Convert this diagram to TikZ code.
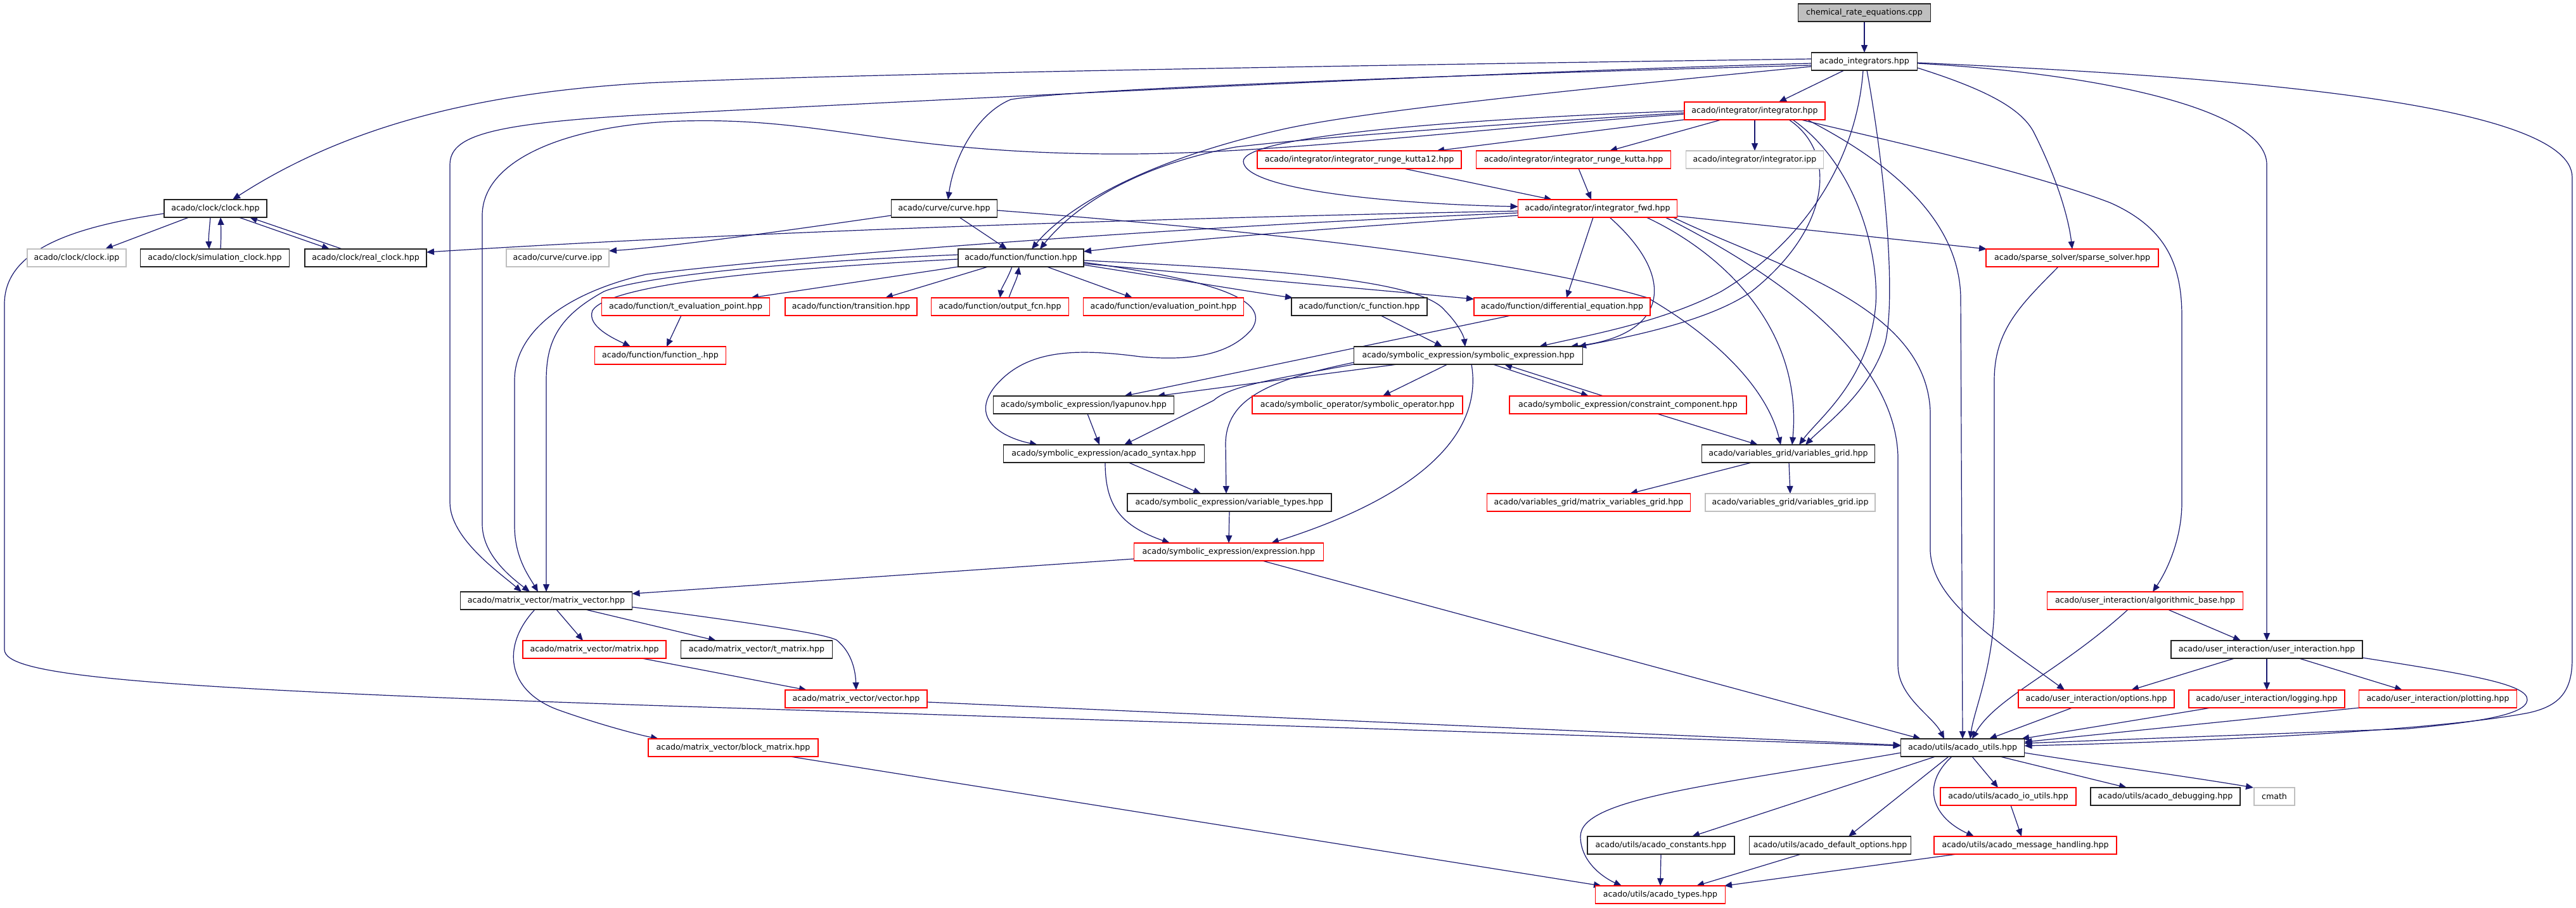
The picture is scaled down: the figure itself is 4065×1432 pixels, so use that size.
\documentclass[tikz,border=0pt]{standalone}
\usepackage{fontspec}
\usetikzlibrary{arrows.meta}
\newfontfamily\dxfont{DejaVu Sans}
\definecolor{edgeblue}{HTML}{191970}
\definecolor{grayb}{HTML}{BFBFBF}
\definecolor{boxblack}{HTML}{202020}
\pgfdeclarelayer{bg}
\pgfsetlayers{bg,main}
\tikzset{
  nb/.style={draw=boxblack, fill=white, line width=1.4pt, minimum height=28pt, inner sep=0pt, outer sep=0pt, font=\dxfont\fontsize{12.6}{15}\selectfont, text=black},
  nr/.style={nb, draw=red},
  ng/.style={nb, draw=grayb},
  e/.style={draw=edgeblue, line width=1.2pt, -{Triangle[length=12pt,width=10pt]}},
}
\begin{document}
\begin{tikzpicture}[x=1pt,y=-1pt]
\useasboundingbox (0,0) rectangle (4065,1432);
% nodes
\node[nb, fill=grayb, minimum width=209pt] (root) at (2942,20) {chemical\_rate\_equations.cpp};
\node[nb, minimum width=167pt] (ai) at (2942,97) {acado\_integrators.hpp};
\node[nr, minimum width=222pt] (integ) at (2769,175) {acado/integrator/integrator.hpp};
\node[nr, minimum width=322pt] (rk12) at (2145,252) {acado/integrator/integrator\_runge\_kutta12.hpp};
\node[nr, minimum width=307pt] (rk) at (2483,252) {acado/integrator/integrator\_runge\_kutta.hpp};
\node[ng, minimum width=217pt] (iipp) at (2769,252) {acado/integrator/integrator.ipp};
\node[nr, minimum width=251pt] (ifwd) at (2521,329) {acado/integrator/integrator\_fwd.hpp};
\node[nb, minimum width=162pt] (clock) at (340,329) {acado/clock/clock.hpp};
\node[nb, minimum width=167pt] (curve) at (1490,329) {acado/curve/curve.hpp};
\node[nr, minimum width=272pt] (sparse) at (3270,407) {acado/sparse\_solver/sparse\_solver.hpp};
\node[ng, minimum width=156pt] (cipp) at (121,407) {acado/clock/clock.ipp};
\node[nb, minimum width=235pt] (simclock) at (339,407) {acado/clock/simulation\_clock.hpp};
\node[nb, minimum width=192pt] (realclock) at (577,407) {acado/clock/real\_clock.hpp};
\node[ng, minimum width=162pt] (curveipp) at (880,407) {acado/curve/curve.ipp};
\node[nb, minimum width=198pt] (function) at (1611,407) {acado/function/function.hpp};
\node[nr, minimum width=265pt] (teval) at (1082,484) {acado/function/t\_evaluation\_point.hpp};
\node[nr, minimum width=208pt] (trans) at (1343,484) {acado/function/transition.hpp};
\node[nr, minimum width=217pt] (outfcn) at (1578,484) {acado/function/output\_fcn.hpp};
\node[nr, minimum width=253pt] (evalpt) at (1836,484) {acado/function/evaluation\_point.hpp};
\node[nb, minimum width=214pt] (cfunc) at (2145,484) {acado/function/c\_function.hpp};
\node[nr, minimum width=278pt] (diffeq) at (2465,484) {acado/function/differential\_equation.hpp};
\node[nr, minimum width=207pt] (fnu) at (1042,561) {acado/function/function\_.hpp};
\node[nb, minimum width=361pt] (symexpr) at (2317,561) {acado/symbolic\_expression/symbolic\_expression.hpp};
\node[nb, minimum width=285pt] (lyap) at (1710,639) {acado/symbolic\_expression/lyapunov.hpp};
\node[nr, minimum width=332pt] (symop) at (2142,639) {acado/symbolic\_operator/symbolic\_operator.hpp};
\node[nr, minimum width=374pt] (constr) at (2569,639) {acado/symbolic\_expression/constraint\_component.hpp};
\node[nb, minimum width=317pt] (syntax) at (1742,716) {acado/symbolic\_expression/acado\_syntax.hpp};
\node[nb, minimum width=273pt] (vgrid) at (2822,716) {acado/variables\_grid/variables\_grid.hpp};
\node[nb, minimum width=322pt] (vtypes) at (1940,793) {acado/symbolic\_expression/variable\_types.hpp};
\node[nr, minimum width=321pt] (mvgrid) at (2507,793) {acado/variables\_grid/matrix\_variables\_grid.hpp};
\node[ng, minimum width=268pt] (vgipp) at (2825,793) {acado/variables\_grid/variables\_grid.ipp};
\node[nr, minimum width=299pt] (expr) at (1939,871) {acado/symbolic\_expression/expression.hpp};
\node[nb, minimum width=271pt] (mv) at (862,948) {acado/matrix\_vector/matrix\_vector.hpp};
\node[nr, minimum width=309pt] (algo) at (3385,948) {acado/user\_interaction/algorithmic\_base.hpp};
\node[nb, minimum width=302pt] (ui) at (3577,1025) {acado/user\_interaction/user\_interaction.hpp};
\node[nb, minimum width=239pt] (tmatrix) at (1194,1025) {acado/matrix\_vector/t\_matrix.hpp};
\node[nr, minimum width=226pt] (matrix) at (938,1025) {acado/matrix\_vector/matrix.hpp};
\node[nr, minimum width=224pt] (vector) at (1351,1103) {acado/matrix\_vector/vector.hpp};
\node[nr, minimum width=246pt] (options) at (3308,1103) {acado/user\_interaction/options.hpp};
\node[nr, minimum width=246pt] (logging) at (3577,1103) {acado/user\_interaction/logging.hpp};
\node[nr, minimum width=249pt] (plotting) at (3847,1103) {acado/user\_interaction/plotting.hpp};
\node[nr, minimum width=268pt] (block) at (1157,1180) {acado/matrix\_vector/block\_matrix.hpp};
\node[nb, minimum width=195pt] (utils) at (3097,1180) {acado/utils/acado\_utils.hpp};
\node[nr, minimum width=214pt] (ioutils) at (3169,1257) {acado/utils/acado\_io\_utils.hpp};
\node[nb, minimum width=236pt] (debug) at (3417,1257) {acado/utils/acado\_debugging.hpp};
\node[ng, minimum width=64pt] (cmath) at (3589,1257) {cmath};
\node[nb, minimum width=232pt] (const) at (2621,1334) {acado/utils/acado\_constants.hpp};
\node[nb, minimum width=255pt] (defopt) at (2888,1334) {acado/utils/acado\_default\_options.hpp};
\node[nr, minimum width=288pt] (msg) at (3196,1334) {acado/utils/acado\_message\_handling.hpp};
\node[nr, minimum width=205pt] (types) at (2620,1412) {acado/utils/acado\_types.hpp};
% edges
\begin{pgfonlayer}{bg}
\fill[white] (0,0) rectangle (4065,1432);
\draw[e] (root.south) -- (ai.north);
\draw[e] ([xshift=-32pt]ai.south) -- ([xshift=38pt]integ.north);
\draw[e] ([yshift=4pt]ai.west) .. controls (2000,105) and (1300,118) .. (1020,131) .. controls (780,145) and (560,190) .. ([xshift=27pt]clock.north);
\draw[e] ([yshift=-3pt]ai.west) .. controls (2300,115) and (1400,162) .. (1020,181) .. controls (770,195) and (710,215) .. (710,260) -- (710,793) .. controls (710,850) and (790,905) .. ([xshift=-39pt]mv.north);
\draw[e] ([yshift=-6pt]ai.west) .. controls (2300,118) and (1700,140) .. (1595,157) .. controls (1540,180) and (1505,250) .. ([xshift=6pt]curve.north);
\draw[e] ([yshift=-8pt]ai.west) .. controls (2500,140) and (2150,175) .. (2020,205) .. controls (1800,255) and (1680,330) .. ([xshift=17pt]function.north);
\draw[e] ([yshift=-3pt]integ.west) .. controls (2300,200) and (2050,220) .. (1950,232) .. controls (1800,260) and (1700,320) .. ([xshift=30pt]function.north);
\draw[e] ([yshift=-5pt]integ.west) .. controls (2300,205) and (2000,245) .. (1748,243) .. controls (1400,240) and (1300,185) .. (1078,191) .. controls (900,196) and (761,250) .. (761,340) -- (761,827) .. controls (761,875) and (805,910) .. ([xshift=-26pt]mv.north);
\draw[e] (integ.west) .. controls (2300,188) and (1960,215) .. (1962,255) .. controls (1965,300) and (2200,322) .. ([yshift=3pt]ifwd.west);
\draw[e] ([xshift=-112pt]integ.south) -- ([xshift=122pt]rk12.north);
\draw[e] ([xshift=-53pt]integ.south) -- ([xshift=57pt]rk.north);
\draw[e] (integ.south) -- (iipp.north);
\draw[e] ([xshift=70pt]rk12.south) -- ([xshift=-72pt]ifwd.north);
\draw[e] ([xshift=8pt]rk.south) -- ([xshift=-10pt]ifwd.north);
\draw[e] ([xshift=73pt]integ.south) .. controls (2950,215) and (3200,270) .. (3330,320) .. controls (3420,360) and (3443,420) .. (3443,500) -- (3443,793) .. controls (3443,850) and (3420,900) .. ([xshift=12pt]algo.north);
\draw[e] ([xshift=83pt]integ.south) .. controls (2950,240) and (3092,330) .. (3094,470) -- (utils.north);
\draw[e] ([xshift=-2pt]ai.south) .. controls (2930,250) and (2850,380) .. (2716,460) .. controls (2620,510) and (2500,530) .. ([xshift=112pt]symexpr.north);
\draw[e] ([xshift=54pt]integ.south) .. controls (2900,240) and (2890,360) .. (2764,460) .. controls (2700,505) and (2580,530) .. ([xshift=174pt]symexpr.north);
\draw[e] ([xshift=19pt]ifwd.south) .. controls (2650,440) and (2630,530) .. ([xshift=161pt]symexpr.north);
\draw[e] ([xshift=4pt]ai.south) .. controls (2980,300) and (2990,480) .. (2975,540) .. controls (2950,620) and (2880,670) .. ([xshift=27pt]vgrid.north);
\draw[e] ([xshift=60pt]integ.south) .. controls (2930,260) and (2965,400) .. (2960,480) .. controls (2950,600) and (2870,660) .. ([xshift=17pt]vgrid.north);
\draw[e] ([xshift=77pt]ifwd.south) .. controls (2720,400) and (2845,520) .. ([xshift=6pt]vgrid.north);
\draw[e] ([yshift=-3pt]curve.east) .. controls (2000,365) and (2400,410) .. (2600,470) .. controls (2720,540) and (2790,620) .. ([xshift=-12pt]vgrid.north);
\draw[e] ([xshift=46pt]constr.south) -- ([xshift=-48pt]vgrid.north);
\draw[e] ([xshift=-58pt]vgrid.south) -- ([xshift=65pt]mvgrid.north);
\draw[e] ([xshift=1pt]vgrid.south) -- (vgipp.north);
\draw[e] ([xshift=-42pt]clock.south) -- ([xshift=45pt]cipp.north);
\draw[e] ([xshift=-8pt]clock.south) .. controls (330,365) and (329,375) .. ([xshift=-9pt]simclock.north);
\draw[e] ([xshift=9pt]simclock.north) .. controls (349,375) and (349,365) .. ([xshift=8pt]clock.south);
\draw[e] ([xshift=37pt]clock.south) -- ([xshift=-57pt]realclock.north);
\draw[e] ([xshift=-37pt]realclock.north) -- ([xshift=54pt]clock.south);
\draw[e] ([yshift=-8pt]clock.west) .. controls (100,360) and (7,400) .. (7,480) -- (7,1025) .. controls (7,1065) and (200,1085) .. (1020,1113) -- ([yshift=3pt]utils.west);
\draw[e] ([yshift=-11pt]curve.west) .. controls (1200,370) and (1050,390) .. ([yshift=11pt]curveipp.east);
\draw[e] ([xshift=24pt]curve.south) -- ([xshift=-22pt]function.north);
\draw[e] ([yshift=-4pt]ifwd.west) .. controls (1800,345) and (1200,365) .. ([yshift=9pt]realclock.east);
\draw[e] ([yshift=-11pt]ifwd.west) .. controls (2100,360) and (1850,380) .. ([yshift=10pt]function.east);
\draw[e] ([yshift=-7pt]ifwd.west) .. controls (1800,360) and (1200,410) .. (1020,433) .. controls (900,460) and (812,520) .. (812,600) -- (812,830) .. controls (812,880) and (835,910) .. ([xshift=-13pt]mv.north);
\draw[e] ([yshift=5pt]function.west) .. controls (1200,415) and (1000,440) .. (953,460) .. controls (880,500) and (862,540) .. (862,600) -- (mv.north);
\draw[e] ([yshift=-2pt]function.west) .. controls (1200,425) and (960,450) .. (935,490) .. controls (925,515) and (970,535) .. ([xshift=-47pt]fnu.north);
\draw[e] ([xshift=-99pt]function.south) -- ([xshift=103pt]teval.north);
\draw[e] ([xshift=-52pt]function.south) -- ([xshift=54pt]trans.north);
\draw[e] ([xshift=-14pt]function.south) .. controls (1590,440) and (1580,455) .. (outfcn.north);
\draw[e] ([xshift=14pt]outfcn.north) .. controls (1597,455) and (1605,440) .. ([xshift=-3pt]function.south);
\draw[e] ([xshift=41pt]function.south) -- ([xshift=-49pt]evalpt.north);
\draw[e] ([yshift=-11pt]function.east) .. controls (1850,440) and (1970,460) .. ([xshift=-105pt]cfunc.north);
\draw[e] ([yshift=-9pt]function.east) .. controls (1950,438) and (2200,460) .. ([yshift=12pt]diffeq.west);
\draw[e] ([yshift=-4pt]function.east) .. controls (2000,425) and (2240,440) .. (2280,490) .. controls (2300,510) and (2310,530) .. ([xshift=-5pt]symexpr.north);
\draw[e] ([yshift=-7pt]function.east) .. controls (1900,440) and (2010,470) .. (1975,520) .. controls (1940,560) and (1880,570) .. (1800,563) .. controls (1700,550) and (1620,550) .. (1570,610) .. controls (1530,660) and (1580,690) .. ([xshift=-105pt]syntax.north);
\draw[e] ([xshift=-7pt]teval.south) -- ([xshift=10pt]fnu.north);
\draw[e] ([xshift=-81pt]diffeq.south) -- ([xshift=64pt]lyap.north);
\draw[e] ([xshift=34pt]cfunc.south) -- ([xshift=-41pt]symexpr.north);
\draw[e] ([xshift=-112pt]symexpr.south) -- ([xshift=116pt]lyap.north);
\draw[e] (symexpr.south west) .. controls (2000,600) and (1940,610) .. (1915,632) -- ([xshift=32pt]syntax.north);
\draw[e] ([yshift=-11pt]symexpr.west) .. controls (2000,600) and (1935,630) .. (1934,700) -- ([xshift=-5pt]vtypes.north);
\draw[e] ([xshift=-33pt]symexpr.south) -- ([xshift=40pt]symop.north);
\draw[e] ([xshift=39pt]symexpr.south) -- ([xshift=-62pt]constr.north);
\draw[e] ([xshift=-39pt]constr.north) -- ([xshift=57pt]symexpr.south);
\draw[e] ([xshift=5pt]symexpr.south) .. controls (2340,680) and (2250,780) .. ([xshift=67pt]expr.north);
\draw[e] ([xshift=6pt]lyap.south) -- ([xshift=-7pt]syntax.north);
\draw[e] ([xshift=39pt]syntax.south) -- ([xshift=-45pt]vtypes.north);
\draw[e] ([xshift=2pt]syntax.south) .. controls (1744,800) and (1770,830) .. ([xshift=-93pt]expr.north);
\draw[e] (vtypes.south) -- (expr.north);
\draw[e] ([yshift=-11pt]expr.west) -- ([yshift=11pt]mv.east);
\draw[e] ([xshift=53pt]expr.south) -- ([xshift=-66pt]utils.north);
\draw[e] ([xshift=-7pt]ifwd.south) -- ([xshift=7pt]diffeq.north);
\draw[e] ([xshift=107pt]ifwd.south) .. controls (2800,430) and (2990,560) .. (2995,720) -- (2995,1050) .. controls (2995,1100) and (3050,1130) .. ([xshift=-29pt]utils.north);
\draw[e] ([xshift=119pt]ifwd.south) .. controls (2800,420) and (3040,480) .. (3046,650) -- (3046,870) .. controls (3050,950) and (3150,1010) .. ([xshift=-50pt]options.north);
\draw[e] ([yshift=-12pt]ifwd.east) -- ([xshift=-135pt]sparse.north);
\draw[e] ([yshift=-10pt]ai.east) .. controls (3130,140) and (3190,170) .. (3210,210) .. controls (3250,290) and (3265,350) .. (sparse.north);
\draw[e] ([yshift=-3pt]ai.east) .. controls (3300,115) and (3577,170) .. (3577,260) -- (ui.north);
\draw[e] ([yshift=-2pt]ai.east) .. controls (3500,120) and (4059,160) .. (4059,280) -- (4059,1040) .. controls (4059,1095) and (4035,1115) .. (3990,1125) .. controls (3850,1152) and (3500,1170) .. ([yshift=3pt]utils.east);
\draw[e] ([yshift=-13pt]ui.east) .. controls (3900,1065) and (3990,1080) .. (3988,1105) .. controls (3985,1130) and (3900,1140) .. (3800,1150) -- ([yshift=7pt]utils.east);
\draw[e] ([xshift=-51pt]ui.south) -- ([xshift=55pt]options.north);
\draw[e] (ui.south) -- (logging.north);
\draw[e] ([xshift=51pt]ui.south) -- ([xshift=-56pt]plotting.north);
\draw[e] ([xshift=36pt]algo.south) -- ([xshift=-41pt]ui.north);
\draw[e] ([xshift=-27pt]algo.south) .. controls (3250,1060) and (3150,1100) .. ([xshift=15pt]utils.north);
\draw[e] ([xshift=-22pt]sparse.south) .. controls (3190,480) and (3147,520) .. (3147,600) -- (3147,950) .. controls (3147,1050) and (3115,1120) .. ([xshift=12pt]utils.north);
\draw[e] ([xshift=-38pt]options.south) -- ([xshift=42pt]utils.north);
\draw[e] ([xshift=-88pt]logging.south) -- ([xshift=93pt]utils.north);
\draw[e] ([xshift=-124pt]plotting.south) -- ([yshift=9pt]utils.east);
\draw[e] ([yshift=-5pt]vector.east) -- ([yshift=4pt]utils.west);
\draw[e] ([xshift=16pt]mv.south) -- ([xshift=-18pt]matrix.north);
\draw[e] ([xshift=62pt]mv.south) -- ([xshift=-64pt]tmatrix.north);
\draw[e] ([yshift=-10pt]mv.east) .. controls (1200,985) and (1300,1000) .. (1320,1010) .. controls (1345,1030) and (1350,1060) .. (vector.north);
\draw[e] ([xshift=75pt]matrix.south) -- ([xshift=-78pt]vector.north);
\draw[e] ([xshift=-18pt]mv.south) .. controls (790,1020) and (800,1090) .. (880,1120) .. controls (950,1145) and (1010,1160) .. ([xshift=-118pt]block.north);
\draw[e] ([xshift=90pt]block.south) -- ([xshift=-93pt]types.north);
\draw[e] ([xshift=15pt]utils.south) -- ([xshift=-16pt]ioutils.north);
\draw[e] ([xshift=59pt]utils.south) -- ([xshift=-61pt]debug.north);
\draw[e] ([yshift=-8pt]utils.east) .. controls (3300,1205) and (3450,1225) .. ([xshift=-33pt]cmath.north);
\draw[e] ([xshift=-17pt]utils.south) .. controls (3030,1240) and (3050,1290) .. ([xshift=-81pt]msg.north);
\draw[e] ([xshift=-43pt]utils.south) -- ([xshift=49pt]const.north);
\draw[e] ([xshift=-22pt]utils.south) -- ([xshift=29pt]defopt.north);
\draw[e] ([yshift=-8pt]utils.west) .. controls (2700,1240) and (2494,1260) .. (2494,1320) .. controls (2494,1360) and (2530,1385) .. ([xshift=-61pt]types.north);
\draw[e] ([xshift=4pt]ioutils.south) -- ([xshift=-6pt]msg.north);
\draw[e] ([xshift=-108pt]msg.south) -- ([xshift=101pt]types.north);
\draw[e] (const.south) -- (types.north);
\draw[e] ([xshift=-46pt]defopt.south) -- ([xshift=57pt]types.north);
\end{pgfonlayer}
\end{tikzpicture}
\end{document}
